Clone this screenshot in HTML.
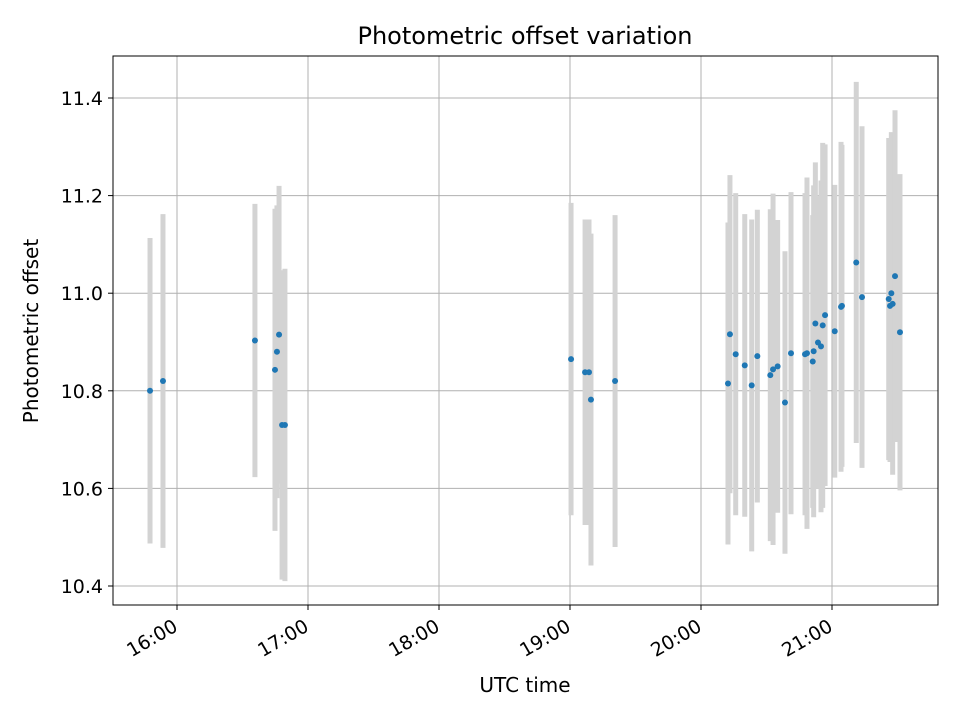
<!DOCTYPE html>
<html><head><meta charset="utf-8"><style>
body{margin:0;background:#fff;}
svg text{font-family:"DejaVu Sans","Liberation Sans",sans-serif;fill:#000;}
</style></head><body>
<svg id="chart" width="960" height="720" viewBox="0 0 960 720">
<rect width="960" height="720" fill="#fff"/>
<text x="525" y="44" style="font-size:24px" text-anchor="middle">Photometric offset variation</text>
<text x="525" y="692" style="font-size:20px" text-anchor="middle">UTC time</text>
<text transform="translate(38,331) rotate(-90)" style="font-size:20px" text-anchor="middle">Photometric offset</text>
<g id="grid"></g><g id="bars"></g><g id="pts"></g><g id="axes"></g>
</svg>
<script>
const times=[15.794,15.893,16.595,16.748,16.763,16.779,16.802,16.824,19.008,19.115,19.145,19.160,19.344,20.206,20.221,20.265,20.334,20.387,20.430,20.529,20.550,20.585,20.641,20.687,20.794,20.809,20.853,20.860,20.873,20.893,20.916,20.929,20.947,21.021,21.069,21.076,21.185,21.229,21.433,21.443,21.453,21.463,21.481,21.519];
const offsets=[10.80,10.82,10.903,10.843,10.88,10.915,10.73,10.73,10.865,10.838,10.838,10.782,10.82,10.815,10.916,10.875,10.852,10.811,10.871,10.832,10.844,10.850,10.776,10.877,10.875,10.877,10.860,10.881,10.938,10.899,10.891,10.934,10.955,10.922,10.972,10.974,11.063,10.992,10.988,10.974,11.0,10.978,11.035,10.920];
const errors=[0.313,0.342,0.28,0.33,0.30,0.305,0.317,0.32,0.32,0.313,0.313,0.34,0.34,0.33,0.326,0.33,0.31,0.34,0.30,0.34,0.36,0.30,0.31,0.33,0.33,0.36,0.30,0.34,0.33,0.30,0.34,0.374,0.35,0.30,0.338,0.33,0.37,0.35,0.33,0.32,0.33,0.35,0.34,0.324];
const xTicks=[16,17,18,19,20,21];
const xTickLabels=["16:00","17:00","18:00","19:00","20:00","21:00"];
const yTicks=[10.4,10.6,10.8,11.0,11.2,11.4];
const yTickLabels=["10.4","10.6","10.8","11.0","11.2","11.4"];

const L=113,R=938,T=56,B=605;
const xs=h=>177+(h-16)*131;
const ys=v=>586-(v-10.4)*488;
const NS="http://www.w3.org/2000/svg";
function mk(tag,attrs,parent){const e=document.createElementNS(NS,tag);for(const k in attrs)e.setAttribute(k,attrs[k]);parent.appendChild(e);return e;}
const grid=document.getElementById('grid'),bars=document.getElementById('bars'),pts=document.getElementById('pts'),axes=document.getElementById('axes');
xTicks.forEach((t,i)=>{
  const x=xs(t);
  const g=mk('line',{x1:x,x2:x,y1:T,y2:B,stroke:'#b0b0b0','stroke-width':1},grid);
  
  
  const tk=mk('line',{x1:x,x2:x,y1:B,y2:B+5,stroke:'#000','stroke-width':1},axes);
  
  
  const ax=x+2, ay=B+25;
  const tx=mk('text',{x:ax,y:ay,style:'font-size:19px','text-anchor':'end',transform:`rotate(-30 ${ax} ${ay})`},axes);
  tx.textContent=xTickLabels[i];
  
  
});
yTicks.forEach((t,i)=>{
  const y=ys(t);
  const g=mk('line',{x1:L,x2:R,y1:y,y2:y,stroke:'#b0b0b0','stroke-width':1},grid);
  
  
  const tk=mk('line',{x1:L-5,x2:L,y1:y,y2:y,stroke:'#000','stroke-width':1},axes);
  
  
  const tx=mk('text',{x:L-10,y:y+7,style:'font-size:19px','text-anchor':'end'},axes);
  tx.textContent=yTickLabels[i];
  
  
});
times.forEach((t,i)=>{
  const x=xs(t);
  const b=mk('line',{x1:x,x2:x,y1:ys(offsets[i]-errors[i]),y2:ys(offsets[i]+errors[i]),stroke:'#d3d3d3','stroke-width':5},bars);
  
  
  const c=mk('circle',{cx:x,cy:ys(offsets[i]),r:3,fill:'#1f77b4'},pts);
  
  
});
const fr=mk('rect',{x:L,y:T,width:R-L,height:B-T,fill:'none',stroke:'#000','stroke-width':1},axes);


</script>
</body></html>
